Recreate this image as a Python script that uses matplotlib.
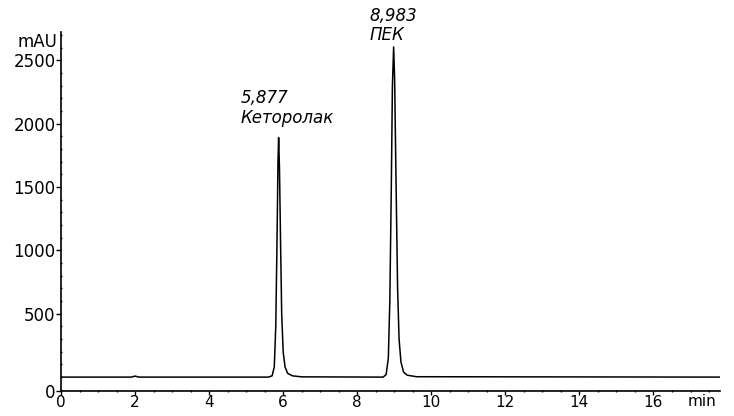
import matplotlib
matplotlib.use("Agg")
import matplotlib.pyplot as plt
from matplotlib.ticker import MultipleLocator, FixedLocator
import matplotlib.transforms as mtransforms

plt.rcParams['font.family'] = ['DejaVu Sans']

# chromatogram trace (min, mAU)
times = [0.0, 1.90, 2.00, 2.10, 5.60, 5.70, 5.76, 5.80, 5.83, 5.86, 5.877,
         5.90, 5.93, 5.96, 6.00, 6.05, 6.12, 6.25, 6.50,
         8.70, 8.78, 8.84, 8.88, 8.92, 8.95, 8.983, 9.01, 9.05, 9.09,
         9.13, 9.18, 9.25, 9.35, 9.60, 17.8]
mau = [0, 0, 8, 0, 0, 10, 80, 400, 1000, 1700, 1890,
       1650, 1050, 500, 200, 80, 30, 10, 2,
       0, 20, 150, 600, 1500, 2300, 2605, 2350, 1500, 700,
       300, 120, 40, 15, 3, 0]

peak_names = ["Кеторолак", "ПЕК"]
peak_labels = ["5,877", "8,983"]
x_ticks = [0, 2, 4, 6, 8, 10, 12, 14, 16]
y_ticks = [500, 1000, 1500, 2000, 2500]

fig = plt.figure(figsize=(7.34, 4.16), dpi=100)
ax = fig.add_axes([0.0831, 0.060, 0.898, 0.863])

ax.plot(times, mau, color='black', lw=1.1)

ax.set_xlim(0, 17.8)
ax.set_ylim(-110, 2723)

for s in ['top', 'right']:
    ax.spines[s].set_visible(False)
for s in ['left', 'bottom']:
    ax.spines[s].set_linewidth(1.2)

ax.xaxis.set_major_locator(FixedLocator(x_ticks))
ax.xaxis.set_minor_locator(MultipleLocator(0.5))
ax.yaxis.set_major_locator(FixedLocator([-110] + y_ticks))
ax.set_yticklabels(['0'] + [str(v) for v in y_ticks])
ax.yaxis.set_minor_locator(MultipleLocator(100))
ax.tick_params(axis='both', which='major', labelsize=12, length=3.5, width=1, pad=0.5)
ax.tick_params(axis='x', which='major', labelsize=11, length=3, pad=0)
ax.tick_params(axis='both', which='minor', length=2, width=1, direction='inout')

# peak annotations
ax.text(4.85, 1975, peak_labels[0] + "\n" + peak_names[0], fontsize=12,
        style='italic', ha='left', va='bottom', linespacing=1.1)
ax.text(8.32, 2625, peak_labels[1] + "\n" + peak_names[1], fontsize=12,
        style='italic', ha='left', va='bottom', linespacing=1.1, clip_on=False)

ax.text(-0.005, 2645, "mAU", fontsize=12, ha='right', va='center',
        transform=mtransforms.blended_transform_factory(ax.transAxes, ax.transData))
ax.text(17.3, -0.008, "min", fontsize=11, ha='center', va='top',
        transform=mtransforms.blended_transform_factory(ax.transData, ax.transAxes))

fig.savefig("out.png", dpi=100)
